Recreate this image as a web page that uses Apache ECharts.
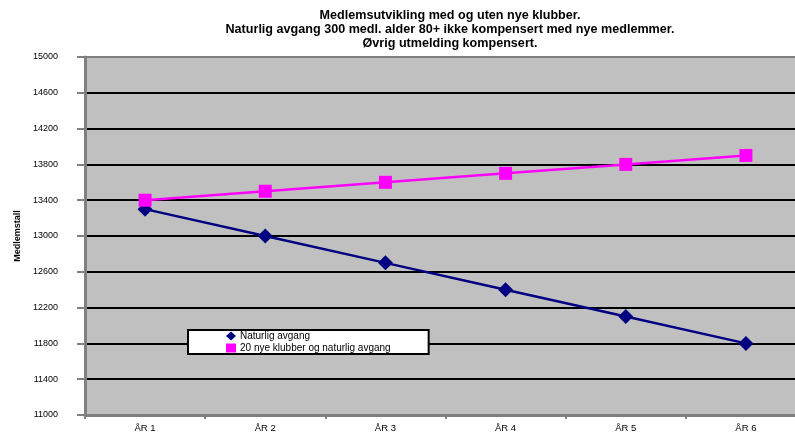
<!DOCTYPE html>
<html>
<head>
<meta charset="utf-8">
<script src="https://cdn.jsdelivr.net/npm/echarts@6/dist/echarts.min.js"></script>
<style>
  html, body { margin: 0; padding: 0; background: #fff; overflow: hidden; }
  /* plottet går litt forbi høyre kant, som i originalen */
  #chart { width: 806px; height: 434px; }
</style>
</head>
<body>
<div id="chart"></div>
<script>
const categories = ['ÅR 1', 'ÅR 2', 'ÅR 3', 'ÅR 4', 'ÅR 5', 'ÅR 6']
const naturligAvgang = [13300, 13000, 12700, 12400, 12100, 11800]
const nyeKlubber = [13400, 13500, 13600, 13700, 13800, 13900]
const seriesNames = ['Naturlig avgang', '20 nye klubber og naturlig avgang']

const font = 'Liberation Sans, Arial, sans-serif'
// første og siste linje er rammen (grå), resten svarte
const gridColors = ['#808080', '#000', '#000', '#000', '#000', '#000', '#000', '#000', '#000', '#000', '#808080']

const myChart = echarts.init(document.getElementById('chart'))
const option = {
  backgroundColor: '#fff',
  animation: false,
  title: {
    text: 'Medlemsutvikling med og uten nye klubber.\nNaturlig avgang 300 medl. alder 80+ ikke kompensert med nye medlemmer.\nØvrig utmelding kompensert.',
    left: 445,
    top: 4,
    textAlign: 'center',
    textStyle: { fontFamily: font, fontSize: 12.6, fontWeight: 'bold', color: '#000', lineHeight: 14 }
  },
  legend: {
    data: [
      { name: seriesNames[0], icon: 'diamond' },
      { name: seriesNames[1], icon: 'rect' }
    ],
    orient: 'vertical',
    left: 188,
    top: 330,
    itemGap: 2,
    itemWidth: 10,
    itemHeight: 9,
    padding: [1, 38, 1, 38],
    backgroundColor: '#fff',
    borderColor: '#000',
    borderWidth: 2,
    borderRadius: 0,
    textStyle: { fontFamily: font, fontSize: 10, color: '#000', padding: [0, 0, 0, -1] }
  },
  grid: { left: 85, top: 57, right: 0, bottom: 19 },
  xAxis: {
    type: 'category',
    data: categories,
    boundaryGap: true,
    axisLine: { lineStyle: { color: '#808080', width: 3 } },
    axisTick: { show: true, length: 4, lineStyle: { color: '#808080', width: 2 } },
    axisLabel: { fontFamily: font, fontSize: 9.5, color: '#000', margin: 8 }
  },
  yAxis: {
    type: 'value',
    name: 'Medlemstall',
    nameLocation: 'middle',
    nameGap: 63,
    nameTextStyle: { fontFamily: font, fontSize: 9, fontWeight: 'bold', color: '#000' },
    min: 11000,
    max: 15000,
    interval: 400,
    axisLine: { show: true, lineStyle: { color: '#808080', width: 3 } },
    axisTick: { show: true, length: 8, lineStyle: { color: '#808080', width: 2 } },
    axisLabel: { fontFamily: font, fontSize: 9, color: '#000', margin: 27, formatter: v => String(v) },
    splitLine: { show: true, lineStyle: { color: gridColors, width: 2 } },
    splitArea: { show: true, areaStyle: { color: ['#c0c0c0'] } }
  },
  series: [
    {
      name: seriesNames[0],
      type: 'line',
      data: naturligAvgang,
      symbol: 'diamond',
      symbolSize: 15,
      itemStyle: { color: '#000080' },
      lineStyle: { color: '#000080', width: 2.5 }
    },
    {
      name: seriesNames[1],
      type: 'line',
      data: nyeKlubber,
      symbol: 'rect',
      symbolSize: 13,
      itemStyle: { color: '#ff00ff' },
      lineStyle: { color: '#ff00ff', width: 2.5 }
    }
  ]
}
myChart.setOption(option)
</script>
</body>
</html>
